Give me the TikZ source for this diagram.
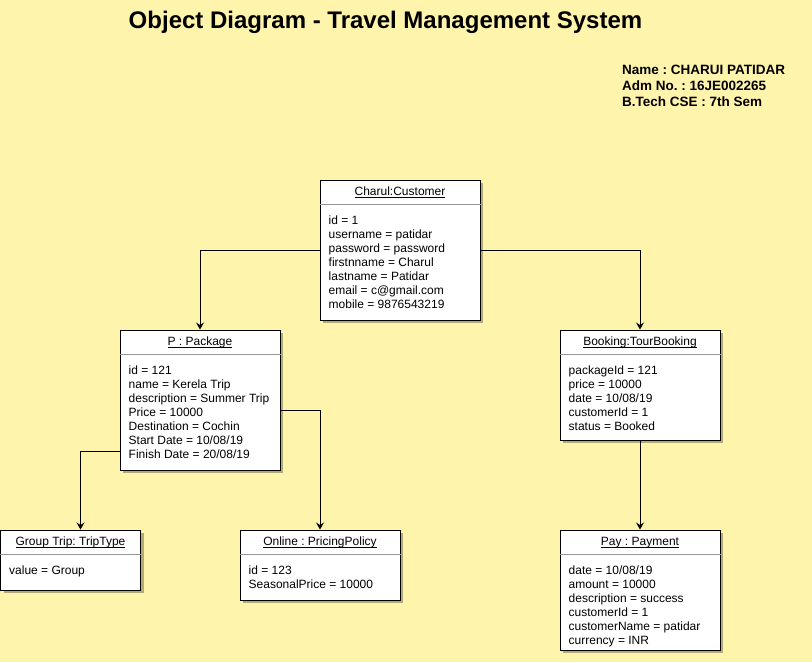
\documentclass[tikz,border=0pt]{standalone}
\usepackage{fontspec}
\setmainfont{Liberation Sans}
\usetikzlibrary{arrows.meta, shadows}

\definecolor{PaperYellow}{RGB}{255,244,172}
\definecolor{SepGray}{RGB}{150,150,150}
\newcommand{\ObjName}[1]{\underline{\smash{#1}}}
\frenchspacing

\begin{document}
\begin{tikzpicture}[
         x = 1pt, y = -1pt,
  ObjStyle/.style={draw, fill=white, line width=1pt, minimum width=160pt,
                   inner sep=0pt,
                   drop shadow={shadow xshift=3pt, shadow yshift=-3pt,
                                opacity=0.3, fill=black}},
  HeadStyle/.style={anchor=north, minimum height=25pt, inner sep=0pt,
                    text height=9pt, text depth=2pt,
                    font=\fontsize{12}{14}\selectfont},
  AttrStyle/.style={anchor=north west, align=left, inner xsep=9pt,
                    inner ysep=11pt, font=\fontsize{12}{14}\selectfont},
  SepStyle/.style={draw=SepGray, line width=1pt},
  LinkStyle/.style={line width=1pt, -{Stealth[length=7pt, width=8pt, inset=2.5pt]}},
  TitleStyle/.style={anchor=base, inner sep=0pt,
                     font=\fontsize{24}{28}\selectfont\bfseries},
  InfoStyle/.style={anchor=north west, align=left, inner sep=0pt,
                    font=\fontsize{13.5}{16}\selectfont\bfseries},
  ]
\useasboundingbox (0,0) rectangle (812,662);
\fill[PaperYellow] (0,0) rectangle (812,662);

% heading
\node[TitleStyle] (title) at (385.5,28) {Object Diagram - Travel Management System};
\node[InfoStyle] (info) at (622,65) {Name : CHARUI PATIDAR\\ Adm No. : 16JE002265\\ B.Tech CSE : 7th Sem};

% objects
\node[ObjStyle, minimum height=140pt] (customer) at (400,250) {};
  \node[HeadStyle] (customer-h) at (customer.north) {\ObjName{Charul:Customer}};
  \node[AttrStyle] (customer-a) at ([yshift=-25pt]customer.north west) {id = 1\\ username = patidar\\ password = password\\ firstnname = Charul\\ lastname = Patidar\\ email = c@gmail.com\\ mobile = 9876543219};
  \draw[SepStyle] (customer-a.north -| customer.west) -- (customer-a.north -| customer.east);

\node[ObjStyle, minimum height=140pt] (package) at (200,400) {};
  \node[HeadStyle] (package-h) at (package.north) {\ObjName{P : Package}};
  \node[AttrStyle] (package-a) at ([yshift=-25pt]package.north west) {id = 121\\ name = Kerela Trip\\ description = Summer Trip\\ Price = 10000\\ Destination = Cochin\\ Start Date = 10/08/19\\ Finish Date = 20/08/19};
  \draw[SepStyle] (package-a.north -| package.west) -- (package-a.north -| package.east);

\node[ObjStyle, minimum height=110pt] (booking) at (640,385) {};
  \node[HeadStyle] (booking-h) at (booking.north) {\ObjName{Booking:TourBooking}};
  \node[AttrStyle] (booking-a) at ([yshift=-25pt]booking.north west) {packageId = 121\\ price = 10000\\ date = 10/08/19\\ customerId = 1\\ status = Booked};
  \draw[SepStyle] (booking-a.north -| booking.west) -- (booking-a.north -| booking.east);

\node[ObjStyle, minimum width=140pt, minimum height=60pt] (grouptrip) at (70.5,560) {};
  \node[HeadStyle] (grouptrip-h) at (grouptrip.north) {\ObjName{Group Trip: TripType}};
  \node[AttrStyle] (grouptrip-a) at ([yshift=-25pt]grouptrip.north west) {value = Group};
  \draw[SepStyle] (grouptrip-a.north -| grouptrip.west) -- (grouptrip-a.north -| grouptrip.east);

\node[ObjStyle, minimum height=70pt] (online) at (320,565) {};
  \node[HeadStyle] (online-h) at (online.north) {\ObjName{Online : PricingPolicy}};
  \node[AttrStyle] (online-a) at ([yshift=-25pt]online.north west) {id = 123\\ SeasonalPrice = 10000};
  \draw[SepStyle] (online-a.north -| online.west) -- (online-a.north -| online.east);

\node[ObjStyle, minimum height=120pt] (pay) at (640,590) {};
  \node[HeadStyle] (pay-h) at (pay.north) {\ObjName{Pay : Payment}};
  \node[AttrStyle] (pay-a) at ([yshift=-25pt]pay.north west) {date = 10/08/19\\ amount = 10000\\ description = success\\ customerId = 1\\ customerName = patidar\\ currency = INR};
  \draw[SepStyle] (pay-a.north -| pay.west) -- (pay-a.north -| pay.east);

% links
\draw[LinkStyle] (customer.west) -| (package.north);
\draw[LinkStyle] (customer.east) -| (booking.north);
\draw[LinkStyle] ([yshift=-51pt]package.west) -| ([xshift=10pt]grouptrip.north);
\draw[LinkStyle] ([yshift=-10pt]package.east) -| (online.north);
\draw[LinkStyle] (booking.south) -- (pay.north);
\end{tikzpicture}
\end{document}
